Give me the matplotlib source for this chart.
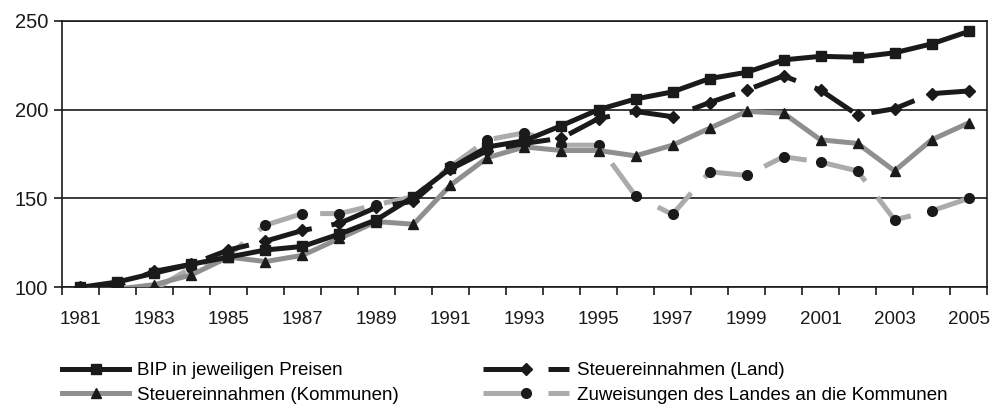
import numpy as np
import matplotlib
matplotlib.use("Agg")
import matplotlib.pyplot as plt

plt.rcParams['font.family'] = ['Liberation Sans', 'DejaVu Sans']

years = list(range(1981, 2006))
tick_labels = [str(y) for y in years[::2]]

bip = [100, 103, 108, 113, 117, 121, 123, 130, 138, 151, 167, 179, 182.5,
       191, 200, 206, 210, 217.5, 221, 228, 230, 229.5, 232, 237, 244]
land = [100, 101, 109, 113, 121, 126, 132, 136, 145, 148.5, 166.5, 177, 181,
        184, 195, 199, 196, 204, 211, 219, 211, 197, 200.5, 209, 210.5]
kommunen = [100, 99, 101.5, 107, 117, 114.5, 118, 127.5, 137, 135.5, 157.5, 173, 179,
            177, 177, 174, 180, 189.5, 199, 198, 183, 181, 165.5, 183, 192.5]
zuweisungen = [100, 99, 99, 111, 118, 135, 141.5, 141.5, 146.5, 151, 168, 183, 187,
               180, 180, 151.5, 141, 165, 163, 173.5, 170.5, 165.5, 138, 143, 150]

labels = ["BIP in jeweiligen Preisen", "Steuereinnahmen (Land)",
          "Steuereinnahmen (Kommunen)", "Zuweisungen des Landes an die Kommunen"]

fig = plt.figure(figsize=(9.96, 4.08), dpi=100)
ax = fig.add_axes([0.0622, 0.2958, 0.9288, 0.6532])

x = np.arange(len(years))
lw = 3.6
ms = 7
dark = '#1a1a1a'
grey1 = '#8f8f8f'
grey2 = '#ababab'

l4, = ax.plot(x, zuweisungen, color=grey2, lw=lw, dashes=(9, 4), marker='o', ms=ms,
              mfc=dark, mec=dark, zorder=3)
l3, = ax.plot(x, kommunen, color=grey1, lw=lw, marker='^', ms=ms,
              mfc=dark, mec=dark, zorder=4)
l2, = ax.plot(x, land, color=dark, lw=lw, dashes=(9, 4), marker='D', ms=6,
              mfc=dark, mec=dark, zorder=5)
l1, = ax.plot(x, bip, color=dark, lw=lw, marker='s', ms=ms,
              mfc=dark, mec=dark, zorder=6)

ax.set_xlim(-0.5, len(years) - 0.5)
ax.set_ylim(100, 250)
ax.set_yticks([100, 150, 200, 250])
ax.yaxis.grid(True, color=dark, lw=1.2)
ax.set_axisbelow(True)

ax.set_xticks(np.arange(-0.5, len(years), 1.0))
ax.set_xticklabels([])
ax.set_xticks(x[::2], minor=True)
ax.set_xticklabels(tick_labels, minor=True)
ax.tick_params(axis='x', which='major', direction='out', length=6, width=1.2, color=dark)
ax.tick_params(axis='x', which='minor', length=0, pad=17, labelsize=13.5, labelcolor=dark)
ax.tick_params(axis='y', direction='out', length=5.5, width=1.2, color=dark,
               labelsize=14.5, labelcolor=dark, pad=4.5)
for s in ax.spines.values():
    s.set_color(dark)
    s.set_linewidth(1.2)

# two legend columns with different handle lengths, like the original
leg_kw = dict(loc='upper left', frameon=False, fontsize=13.5, labelspacing=0.4,
              handletextpad=0.4, borderaxespad=0, borderpad=0)
leg1 = fig.legend([l1, l3], [labels[0], labels[2]], bbox_to_anchor=(0.062, 0.112),
                  handlelength=3.6, **leg_kw)
leg2 = fig.legend([l2, l4], [labels[1], labels[3]], bbox_to_anchor=(0.485, 0.112),
                  handlelength=4.6, **leg_kw)
fig.savefig("out.png", dpi=100)
